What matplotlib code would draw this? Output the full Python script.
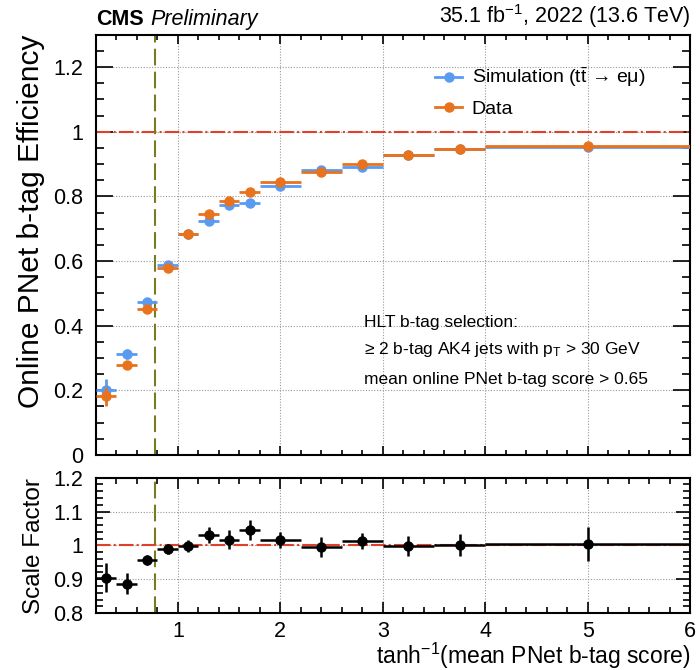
import numpy as np
import matplotlib
matplotlib.use("Agg")
import matplotlib.pyplot as plt
from matplotlib.lines import Line2D
from matplotlib.ticker import MultipleLocator, FormatStrFormatter

plt.rcParams['font.family'] = ['Liberation Sans', 'DejaVu Sans']
plt.rcParams['mathtext.fontset'] = 'custom'
plt.rcParams['mathtext.rm'] = 'Liberation Sans'
plt.rcParams['mathtext.it'] = 'Liberation Sans:italic'

## values
binEdges = [0.2, 0.4, 0.6, 0.8, 1.0, 1.2, 1.4, 1.6, 1.8, 2.2, 2.6, 3.0, 3.5, 4.0, 6.0]
binCenters = [0.3, 0.5, 0.7, 0.9, 1.1, 1.3, 1.5, 1.7, 2.0, 2.4, 2.8, 3.25, 3.75, 5.0]

effSim = [0.200, 0.313, 0.473, 0.587, 0.683, 0.724, 0.773, 0.780, 0.831, 0.881, 0.892, 0.929, 0.948, 0.954]
effSimErr = [0.035, 0.015, 0.010, 0.008, 0.006, 0.006, 0.006, 0.006, 0.005, 0.005, 0.005, 0.004, 0.004, 0.004]
effData = [0.181, 0.278, 0.452, 0.577, 0.684, 0.746, 0.786, 0.814, 0.844, 0.877, 0.899, 0.928, 0.947, 0.956]
effDataErr = [0.030, 0.012, 0.010, 0.008, 0.008, 0.008, 0.008, 0.008, 0.006, 0.006, 0.006, 0.005, 0.005, 0.005]

sf = [0.904, 0.886, 0.958, 0.990, 0.998, 1.030, 1.017, 1.045, 1.016, 0.996, 1.013, 0.998, 1.002, 1.005]
sfErr = [0.043, 0.031, 0.015, 0.015, 0.018, 0.024, 0.027, 0.030, 0.025, 0.030, 0.025, 0.030, 0.033, 0.050]

cutValue = 0.78

blue = '#5a9bf2'
orange = '#e9721c'
refRed = '#e0402a'
olive = '#7a7a20'
refDashes = (7, 1.5, 1, 1.5)


def styleAxis(ax, majLen, minLen, xmajLen, xminLen):
    ax.tick_params(which='both', direction='in', top=True, right=True, width=1.2, labelsize=15.5)
    ax.tick_params(axis='y', which='major', length=majLen, pad=9)
    ax.tick_params(axis='y', which='minor', length=minLen)
    ax.tick_params(axis='x', which='major', length=xmajLen, pad=6)
    ax.tick_params(axis='x', which='minor', length=xminLen)
    for sp in ax.spines.values():
        sp.set_linewidth(1.5)
    ax.grid(True, which='major', linestyle=(0, (1, 1.5)), color='#999999', linewidth=0.8)
    ax.set_axisbelow(True)


edges = np.array(binEdges)
centers = np.array(binCenters)
xerr = [centers - edges[:-1], edges[1:] - centers]

fig = plt.figure(figsize=(7, 6.7), dpi=100)
axMain = fig.add_axes([0.137, 0.321, 0.849, 0.627])
axRatio = fig.add_axes([0.137, 0.085, 0.849, 0.202])

# main panel
axMain.axhline(1.0, color=refRed, linewidth=1.5, dashes=refDashes, zorder=2)
axMain.axvline(cutValue, color=olive, linewidth=1.5, dashes=(8, 3), zorder=2)
axMain.errorbar(centers, effSim, xerr=xerr, yerr=effSimErr, fmt='o', color=blue,
                markersize=6.5, elinewidth=2, capsize=0, zorder=3)
axMain.errorbar(centers, effData, xerr=xerr, yerr=effDataErr, fmt='o', color=orange,
                markersize=6.5, elinewidth=2, capsize=0, zorder=4)

axMain.set_xlim(0.2, 6.0)
axMain.set_ylim(0.0, 1.3)
axMain.xaxis.set_major_locator(MultipleLocator(1))
axMain.xaxis.set_minor_locator(MultipleLocator(0.2))
axMain.yaxis.set_major_locator(MultipleLocator(0.2))
axMain.yaxis.set_minor_locator(MultipleLocator(0.05))
axMain.yaxis.set_major_formatter(FormatStrFormatter('%g'))
styleAxis(axMain, 12, 6, 6.5, 3.5)
axMain.tick_params(axis='x', labelbottom=False)
axMain.set_ylabel('Online PNet b-tag Efficiency', fontsize=21.5, loc='top', labelpad=6)

handles = [Line2D([], [], color=blue, marker='o', markersize=6.5, linewidth=2),
           Line2D([], [], color=orange, marker='o', markersize=6.5, linewidth=2)]
labels = [r'Simulation (t$\bar{\rm t}$ → eμ)', 'Data']
axMain.legend(handles, labels, loc='upper left', bbox_to_anchor=(0.541, 0.968), frameon=False, fontsize=14,
              handlelength=1.4, handletextpad=0.5, labelspacing=0.55)

axMain.text(0.451, 0.305, 'HLT b-tag selection:', transform=axMain.transAxes, fontsize=12.5)
axMain.text(0.451, 0.24, r'≥ 2 b-tag AK4 jets with p$_{\rm T}$ > 30 GeV', transform=axMain.transAxes, fontsize=12.5)
axMain.text(0.451, 0.17, 'mean online PNet b-tag score > 0.65', transform=axMain.transAxes, fontsize=12.5)

axMain.text(0.0, 1.012, 'CMS', transform=axMain.transAxes, fontsize=15.5, fontweight='bold', ha='left', va='bottom')
axMain.text(0.092, 1.012, 'Preliminary', transform=axMain.transAxes, fontsize=15.5, style='italic', ha='left', va='bottom')
axMain.text(1.0, 1.012, r'35.1 fb$^{-1}$, 2022 (13.6 TeV)', transform=axMain.transAxes, fontsize=15.5, ha='right', va='bottom')

# ratio panel
axRatio.axhline(1.0, color=refRed, linewidth=1.5, dashes=refDashes, zorder=2)
axRatio.axvline(cutValue, color=olive, linewidth=1.5, dashes=(8, 3), zorder=2)
axRatio.errorbar(centers, sf, xerr=xerr, yerr=sfErr, fmt='o', color='black',
                 markersize=6.5, elinewidth=1.8, capsize=0, zorder=3)
axRatio.set_xlim(0.2, 6.0)
axRatio.set_ylim(0.8, 1.2)
axRatio.xaxis.set_major_locator(MultipleLocator(1))
axRatio.xaxis.set_minor_locator(MultipleLocator(0.2))
axRatio.yaxis.set_major_locator(MultipleLocator(0.1))
axRatio.yaxis.set_minor_locator(MultipleLocator(0.02))
axRatio.yaxis.set_major_formatter(FormatStrFormatter('%g'))
styleAxis(axRatio, 10, 5, 8, 4.5)
axRatio.set_ylabel('Scale Factor', fontsize=17.5, loc='top', labelpad=6)
axRatio.set_xlabel(r'tanh$^{-1}$(mean PNet b-tag score)', fontsize=16.5, loc='right', labelpad=-1)

fig.align_ylabels([axMain, axRatio])
fig.savefig('out.png', dpi=100)
